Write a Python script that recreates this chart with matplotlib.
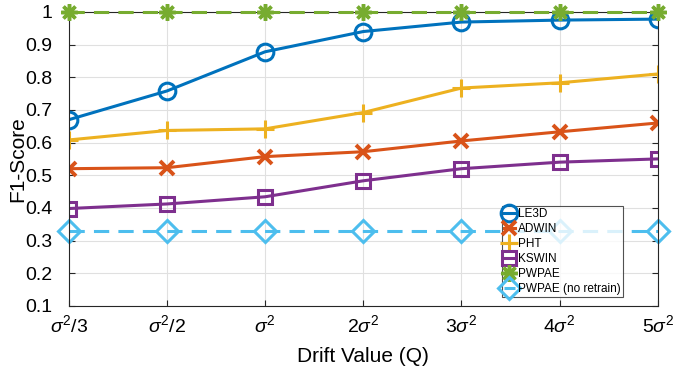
import numpy as np
import matplotlib
matplotlib.use('Agg')
from matplotlib import pyplot as plt

plt.rcParams['font.family'] = ['Liberation Sans', 'DejaVu Sans']
plt.rcParams['mathtext.fontset'] = 'custom'
plt.rcParams['mathtext.rm'] = 'Liberation Sans'
plt.rcParams['mathtext.it'] = 'Liberation Sans:italic'

# data
x_labels = [r'$\sigma^2/3$', r'$\sigma^2/2$', r'$\sigma^2$', r'$2\sigma^2$',
            r'$3\sigma^2$', r'$4\sigma^2$', r'$5\sigma^2$']
le3d = [0.670, 0.758, 0.878, 0.940, 0.969, 0.975, 0.978]
adwin = [0.520, 0.523, 0.557, 0.572, 0.605, 0.633, 0.660]
pht = [0.608, 0.637, 0.642, 0.692, 0.767, 0.783, 0.810]
kswin = [0.398, 0.412, 0.434, 0.483, 0.520, 0.540, 0.550]
pwpae = [1.0, 1.0, 1.0, 1.0, 1.0, 1.0, 1.0]
pwpae_nr = [0.330, 0.330, 0.330, 0.330, 0.330, 0.330, 0.330]

x = np.arange(len(x_labels))

fig = plt.figure(figsize=(6.74, 3.73), dpi=100)
ax = fig.add_axes([0.102, 0.18, 0.874, 0.788])

lw = 2.2
ax.plot(x, le3d, color='#0072BD', lw=lw, marker='o', ms=12, mfc='none', mew=2.2, label='LE3D')
ax.plot(x, adwin, color='#D95319', lw=lw, marker='x', ms=10, mew=2.8, label='ADWIN')
ax.plot(x, pht, color='#EDB120', lw=lw, marker='+', ms=13, mew=2.2, label='PHT')
ax.plot(x, kswin, color='#7E2F8E', lw=lw, marker='s', ms=10, mfc='none', mew=2.2, label='KSWIN')
ax.plot(x, pwpae, color='#77AC30', lw=lw, ls=(0, (5, 3)), marker=(8, 2, 0), ms=12, mew=2.5, label='PWPAE', clip_on=False, zorder=5)
ax.plot(x, pwpae_nr, color='#4DBEEE', lw=lw, ls=(0, (5, 3)), marker='D', ms=11, mfc='none', mew=2.2, label='PWPAE (no retrain)', clip_on=False)

ax.set_xlim(0, 6)
ax.set_ylim(0.1, 1.0)
ax.set_yticks(np.arange(0.1, 1.01, 0.1))
ax.set_yticklabels(['0.1', '0.2', '0.3', '0.4', '0.5', '0.6', '0.7', '0.8', '0.9', '1'])
ax.set_xticks(x)
ax.set_xticklabels(x_labels)
ax.tick_params(direction='in', labelsize=14, length=4, color='#262626', top=True, right=True)
ax.tick_params(axis='y', pad=12)
ax.tick_params(axis='x', pad=6)
ax.grid(True, color='#e0e0e0', lw=0.8)
ax.set_axisbelow(True)
for s in ax.spines.values():
    s.set_color('#262626')
    s.set_linewidth(0.8)

ax.set_xlabel('Drift Value (Q)', fontsize=15, labelpad=8)
ax.set_ylabel('F1-Score', fontsize=15, labelpad=-2)

leg = ax.legend(loc='lower left', bbox_to_anchor=(0.735, 0.03), fontsize=8.5,
                frameon=True, fancybox=False, edgecolor='#262626', handlelength=0.9,
                handletextpad=0.3, borderpad=0.2, labelspacing=0.25, borderaxespad=0)
leg.get_frame().set_linewidth(0.8)

fig.savefig('out.png', dpi=100)
